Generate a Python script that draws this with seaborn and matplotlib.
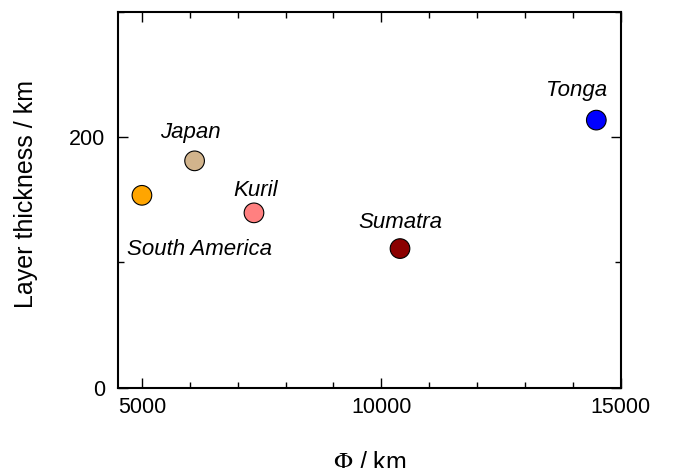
import matplotlib
matplotlib.use("Agg")
import matplotlib.pyplot as plt
from matplotlib.ticker import MultipleLocator
import seaborn as sns
import pandas as pd

regions = ["South America", "Japan", "Kuril", "Sumatra", "Tonga"]
phi_km = [5000, 6100, 7340, 10390, 14490]
thickness_km = [153.5, 181, 139.5, 111, 213.5]
colors = ["#FFA500", "#D2B48C", "#FF8080", "#8B0000", "#0000FF"]

x_ticks = [5000, 10000, 15000]
y_ticks = [0, 200]

sns.set_theme(style="ticks")
plt.rcParams["font.family"] = ["Liberation Sans", "DejaVu Sans"]
plt.rcParams["mathtext.fontset"] = "stix"

df = pd.DataFrame({"region": regions, "phi": phi_km, "thick": thickness_km})

fig = plt.figure(figsize=(6.75, 4.68), dpi=100)
ax = fig.add_axes([0.1748, 0.1716, 0.9196 - 0.1748, 0.975 - 0.1716])

sns.scatterplot(data=df, x="phi", y="thick", hue="region", palette=colors,
                s=200, edgecolor="black", linewidth=0.8, legend=False, ax=ax,
                zorder=3)

# label offsets in points (dx, dy)
offsets = {
    "South America": (41.5, -43.2),
    "Japan": (-3.1, 16.3),
    "Kuril": (0.9, 12.0),
    "Sumatra": (0.2, 14.6),
    "Tonga": (-14.2, 17.3),
}
for r, x, y in zip(regions, phi_km, thickness_km):
    ax.annotate(r, (x, y), xytext=offsets[r], textcoords="offset points",
                ha="center", va="baseline", fontsize=16, style="italic",
                color="black")

ax.set_xlim(4500, 15000)
ax.set_ylim(0, 300)
ax.set_xticks(x_ticks)
ax.set_yticks(y_ticks)
ax.xaxis.set_minor_locator(MultipleLocator(1000))
ax.yaxis.set_minor_locator(MultipleLocator(100))
ax.tick_params(which="both", direction="in", top=True, right=True,
               color="black", width=1.0)
ax.tick_params(which="major", length=7, labelsize=15.5, labelcolor="black")
ax.tick_params(axis="x", which="major", pad=7)
ax.tick_params(axis="y", which="major", pad=9)
ax.tick_params(which="minor", length=4)
for s in ax.spines.values():
    s.set_linewidth(1.5)
    s.set_color("black")

ax.set_xlabel(r"$\Phi$ / km", fontsize=18, color="black")
ax.set_ylabel("Layer thickness / km", fontsize=18, color="black")
ax.xaxis.set_label_coords(0.5, -0.168)
ax.yaxis.set_label_coords(-0.160, 0.515)

fig.savefig("out.png", dpi=100)
